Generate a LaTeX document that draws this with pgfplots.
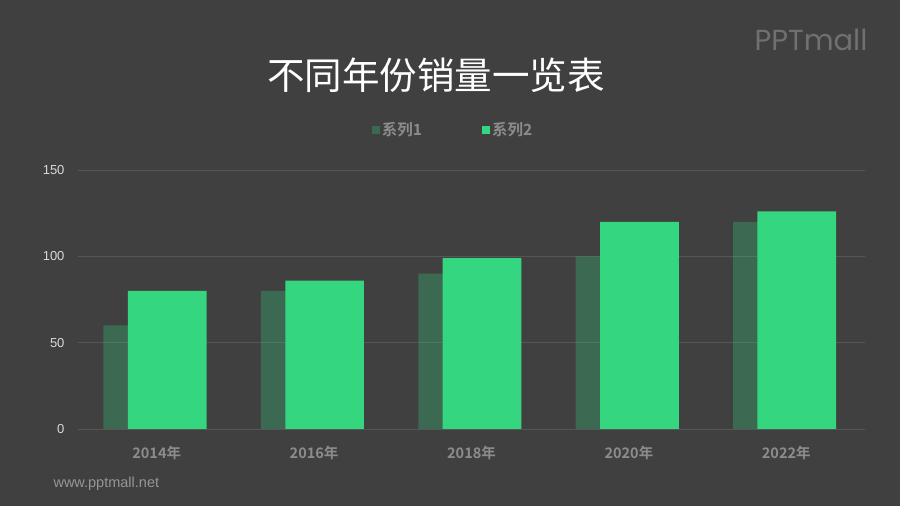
\documentclass[border=0pt]{standalone}
\usepackage{pgfplots}
\pgfplotsset{compat=1.18}
\usepackage{fontspec}
\setmainfont{Noto Sans CJK SC}[BoldFont={Noto Sans CJK SC Bold}]
\newfontfamily\arial{Liberation Sans}
\newfontfamily\logofont{Poppins}
\definecolor{bg}{RGB}{64,64,64}
\definecolor{gs}{RGB}{52,214,128}
\definecolor{gridc}{RGB}{86,86,86}
\definecolor{lbl}{RGB}{140,140,140}
\definecolor{ylbl}{RGB}{217,217,217}
\definecolor{logoc}{RGB}{112,112,112}
\definecolor{wm}{RGB}{150,150,150}
\begin{document}
\begin{tikzpicture}[x=1pt,y=1pt]
\fill[bg] (0,0) rectangle (900,506);
\useasboundingbox (0,0) rectangle (900,506);
\node[white, font=\fontsize{37.5}{42}\selectfont] at (436,431) {不同年份销量一览表};
\node[logoc, font=\logofont\fontsize{29}{32}\selectfont] at (811,466) {PPTmall};
\node[wm, font=\arial\fontsize{14.5}{16}\selectfont, anchor=west] at (50,22) {www.pptmall.net};
\begin{axis}[
  at={(78pt,77pt)}, anchor=south west, scale only axis,
  width=787pt, height=259pt,
  xmin=-0.5, xmax=4.5, ymin=0, ymax=150,
  xtick={0,1,2,3,4},
  xticklabels={2014年,2016年,2018年,2020年,2022年},
  ytick={0,50,100,150},
  axis line style={draw=none},
  major tick style={draw=none},
  ymajorgrids, grid style={gridc, line width=0.8pt},
  /pgf/number format/assume math mode=true,
  yticklabel style={font=\arial\fontsize{13}{15}\selectfont, text=ylbl, xshift=-10pt},
  xticklabel style={font=\bfseries\fontsize{14.5}{16}\selectfont, text=lbl, yshift=-9pt},
  ybar, bar width=0.5,
  legend style={at={(0.4765,1.1544)}, anchor=center, draw=none, fill=none,
     legend columns=2, font=\bfseries\fontsize{15.5}{17}\selectfont, text=lbl,
     /tikz/every even column/.append style={column sep=58pt}},
  legend image code/.code={\fill[#1] (0pt,-4pt) rectangle (8pt,4pt);},
]
\addplot[fill=gs, fill opacity=0.28, draw=none, bar shift=0pt] coordinates {(-0.088,60) (0.912,80) (1.912,90) (2.912,100) (3.912,120)};
\addplot[fill=gs, draw=none, bar shift=0pt] coordinates {(0.067,80) (1.067,86) (2.067,99) (3.067,120) (4.067,126)};
\legend{系列1,系列2}
\end{axis}
\end{tikzpicture}
\end{document}
